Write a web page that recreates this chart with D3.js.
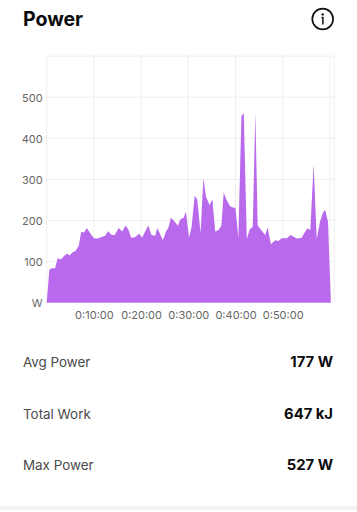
<!DOCTYPE html>
<html>
<head>
<meta charset="utf-8">
<script src="https://cdn.jsdelivr.net/npm/d3@7"></script>
<style>
  html, body { margin: 0; padding: 0; background: #fff; overflow: hidden; }
  text { font-family: Inter, "Noto Sans", sans-serif; }
</style>
</head>
<body>
<div id="chart-area"></div>
<script>
// minutes into the ride and watts
const minutes = [0, 0.56, 1.06, 1.77, 2.33, 2.97, 3.9, 4.4, 4.9, 5.4, 6.1, 6.8, 7.3, 7.9, 8.5, 9.3, 10, 10.7, 11.65, 12.4,
  13, 13.8, 14.4, 15.25, 16, 16.7, 17.3, 17.9, 18.7, 19.6, 20.2, 21.5, 22.2, 23, 23.4, 24, 24.6, 25.3, 25.8, 26.3,
  27, 27.8, 28.3, 29, 29.5, 30.15, 30.7, 31.35, 31.9, 32.6, 33.2, 33.75, 34.5, 35.1, 35.7, 36.4, 37, 37.5, 38.1, 38.9,
  40, 40.6, 41.25, 41.75, 42.4, 43, 43.65, 44.2, 44.7, 45.55, 46.3, 46.8, 47.5, 48.4, 49.1, 49.8, 50.85, 51.7, 52.95, 54,
  55.2, 55.85, 56.55, 57.2, 57.9, 58.6, 59, 59.6, 60.2];
const watts = [0, 80, 84, 84, 108, 105, 116, 119, 115, 122, 126, 139, 172, 171, 182, 168, 157, 156, 160, 163,
  174, 165, 165, 182, 173, 188, 178, 158, 159, 168, 158, 188, 165, 163, 182, 168, 152, 174, 183, 207,
  199, 187, 203, 207, 221, 158, 185, 260, 251, 169, 303, 258, 238, 252, 173, 177, 187, 268, 250, 234,
  230, 158, 454, 461, 155, 178, 185, 462, 188, 175, 165, 183, 142, 152, 150, 157, 157, 165, 156, 158,
  181, 177, 337, 155, 197, 221, 225, 197, 0];

const yTicks = [100, 200, 300, 400, 500];
const xTicks = [10, 20, 30, 40, 50];
const xGrid = [0, 10, 20, 30, 40, 50, 60];
const statLabels = ["Avg Power", "Total Work", "Max Power"];
const statValues = ["177 W", "647 kJ", "527 W"];

let width = 357;
let height = 512;
let plot = {left: 46.7, right: 334.3, top: 55.7, bottom: 302.7};

let svg = d3.select("#chart-area")
            .append("svg")
            .attr("width", width)
            .attr("height", height)
            .style("display", "block");

let x = d3.scaleLinear()
        .domain([0, 60.93])
        .range([plot.left, plot.right]);

let y = d3.scaleLinear()
        .domain([0, 601])
        .range([plot.bottom, plot.top]);

// title
svg.append("text")
    .text("Power")
    .attr("x", 23)
    .attr("y", 26)
    .attr("font-size", 19.5)
    .attr("font-weight", 700)
    .attr("fill", "#0b0b0b");

// info icon
let info = svg.append("g").attr("transform", "translate(322.7,19)");
info.append("circle")
    .attr("r", 10.4)
    .attr("fill", "none")
    .attr("stroke", "#111")
    .attr("stroke-width", 1.7);
info.append("circle")
    .attr("cy", -4.6)
    .attr("r", 1.2)
    .attr("fill", "#111");
info.append("path")
    .attr("d", "M-1.2,-1.4H0.2V5.4")
    .attr("fill", "none")
    .attr("stroke", "#111")
    .attr("stroke-width", 1.5);

// grid
let grid = svg.append("g")
    .attr("stroke", "#efefef")
    .attr("stroke-width", 1);

grid.selectAll(".v")
    .data(xGrid)
    .enter()
    .append("line")
        .attr("x1", d => x(d))
        .attr("x2", d => x(d))
        .attr("y1", plot.top)
        .attr("y2", plot.bottom);

grid.selectAll(".h")
    .data(yTicks.concat([600]))
    .enter()
    .append("line")
        .attr("x1", plot.left)
        .attr("x2", plot.right)
        .attr("y1", d => y(d))
        .attr("y2", d => y(d));

grid.append("line")
    .attr("x1", plot.right)
    .attr("x2", plot.right)
    .attr("y1", plot.top)
    .attr("y2", plot.bottom);

// power area
let area = d3.area()
    .x((d, i) => x(minutes[i]))
    .y0(y(0))
    .y1(d => y(d));

svg.append("path")
    .datum(watts)
    .attr("d", area)
    .attr("fill", "#b869ec");

// y axis
let yAxis = d3.axisLeft(y)
    .tickValues([0].concat(yTicks))
    .tickSize(0)
    .tickPadding(0)
    .tickFormat(d => d === 0 ? "W" : d);

svg.append("g")
    .attr("transform", "translate(" + 42.7 + ",0.5)")
    .call(yAxis)
    .call(g => g.select(".domain").remove())
    .selectAll("text")
        .attr("font-size", 11)
        .attr("fill", "#666");

// x axis
let xAxis = d3.axisBottom(x)
    .tickValues(xTicks)
    .tickSize(0)
    .tickPadding(0)
    .tickFormat(d => "0:" + d + ":00");

svg.append("g")
    .attr("transform", "translate(0," + 311.5 + ")")
    .call(xAxis)
    .call(g => g.select(".domain").remove())
    .selectAll("text")
        .attr("font-size", 11)
        .attr("fill", "#666");

// stats under the chart
let statY = d3.scalePoint()
    .domain(statLabels)
    .range([367, 470]);

svg.selectAll(".stat-label")
    .data(statLabels)
    .enter()
    .append("text")
        .text(d => d)
        .attr("x", 23)
        .attr("y", d => statY(d))
        .attr("font-size", 13.4)
        .attr("fill", "#4a4a4a");

svg.selectAll(".stat-value")
    .data(statValues)
    .enter()
    .append("text")
        .text(d => d)
        .attr("x", 333)
        .attr("y", (d, i) => statY(statLabels[i]))
        .attr("text-anchor", "end")
        .attr("font-size", 14.8)
        .attr("font-weight", 700)
        .attr("fill", "#0b0b0b");

// strip at the bottom of the card
svg.append("rect")
    .attr("x", 0)
    .attr("y", 506)
    .attr("width", width)
    .attr("height", 4)
    .attr("fill", "#f3f3f3");
</script>
</body>
</html>
